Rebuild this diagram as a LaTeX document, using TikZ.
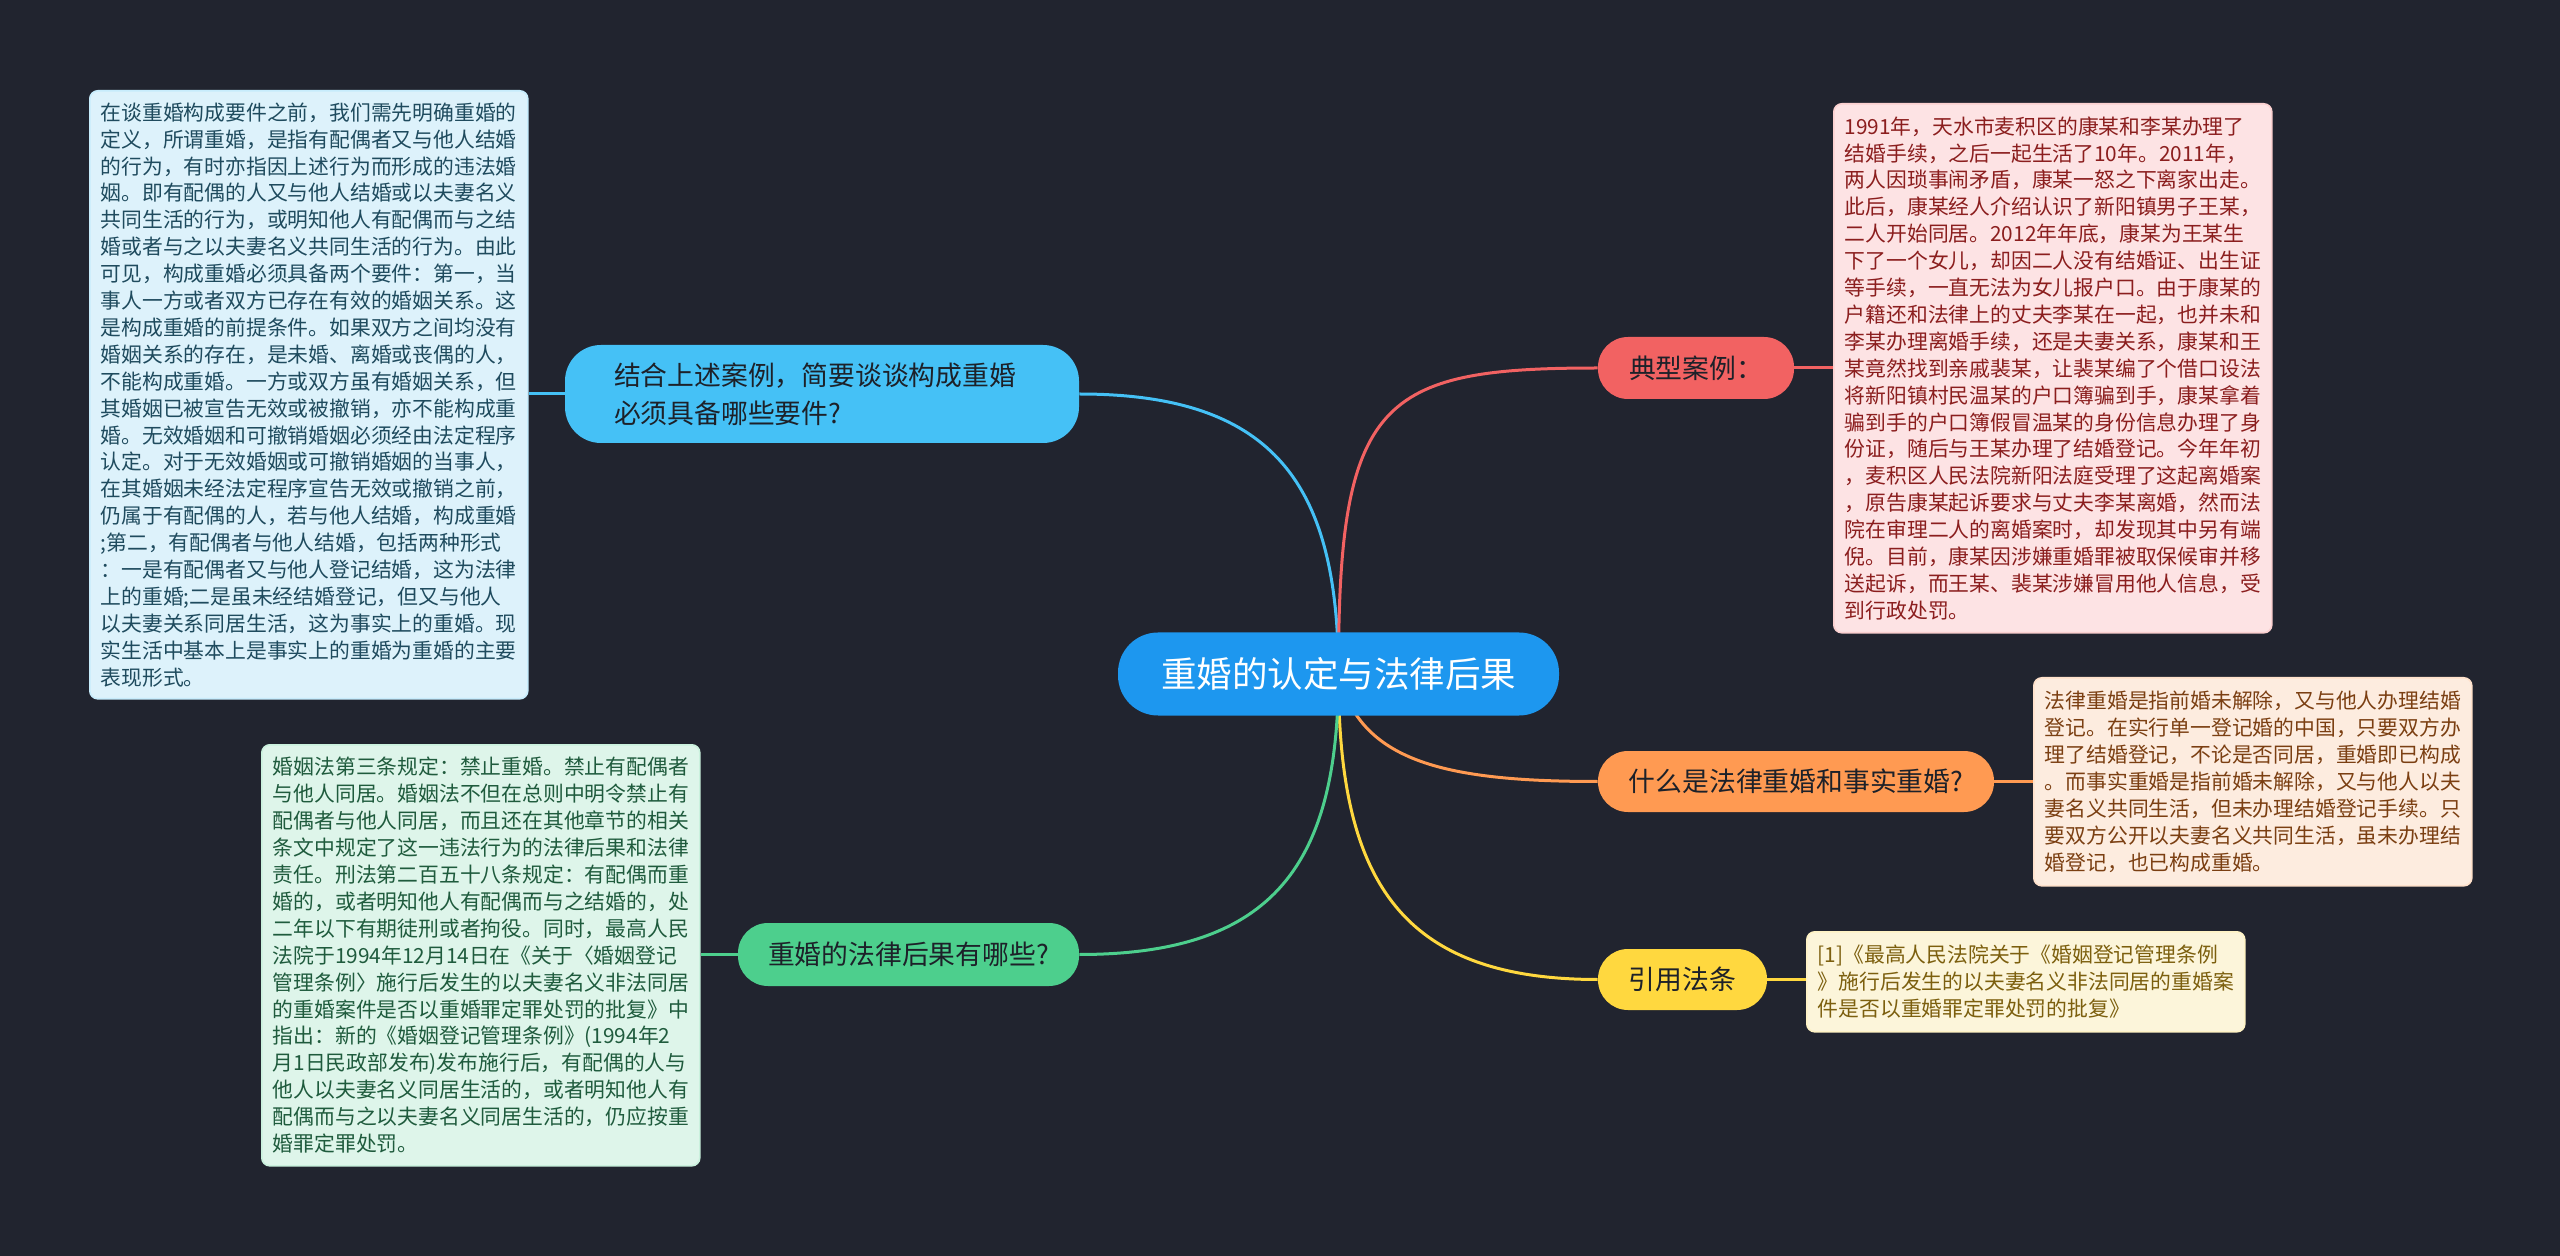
\documentclass[tikz,border=0pt]{standalone}
\usepackage{fontspec}
\newfontfamily\cjk{Noto Sans CJK SC}
\usetikzlibrary{calc}
\definecolor{bgc}{HTML}{21242F}
\definecolor{cMain}{HTML}{1D97EF}
\definecolor{cBlue}{HTML}{45C1F6}
\definecolor{cRed}{HTML}{F26262}
\definecolor{cOrange}{HTML}{FF9A52}
\definecolor{cYellow}{HTML}{FFD83F}
\definecolor{cGreen}{HTML}{4DCF8D}
\definecolor{darktxt}{HTML}{1D2129}
\definecolor{lbFill}{HTML}{DDF2FB}\definecolor{lbText}{HTML}{1F4B5E}
\definecolor{rFill}{HTML}{FDE3E4}\definecolor{rText}{HTML}{8B1E1E}
\definecolor{oFill}{HTML}{FDECDF}\definecolor{oText}{HTML}{7B3F12}
\definecolor{yFill}{HTML}{FCF5DA}\definecolor{yText}{HTML}{7C5F0E}
\definecolor{gFill}{HTML}{DEF5EA}\definecolor{gText}{HTML}{1F5B3D}
\pgfdeclarelayer{back}
\pgfsetlayers{back,main}
\tikzset{
  central/.style={fill=cMain, text=white, rounded corners=20pt, minimum width=220.5pt,
    minimum height=41.5pt, inner sep=0pt, font=\cjk\fontsize{17.75pt}{20pt}\selectfont},
  branch/.style={rounded corners=15pt, inner sep=0pt, text=darktxt,
    font=\cjk\fontsize{13.4pt}{19pt}\selectfont},
  tbox/.style={rounded corners=4pt, inner xsep=5.5pt, inner ysep=0pt, align=left,
    text width=208pt, anchor=north west, line width=0.8pt,
    font=\cjk\fontsize{10.4pt}{13.45pt}\selectfont},
  conn/.style={line width=1.5pt}
}
\begin{document}
\begin{tikzpicture}[x=0.5pt,y=-0.5pt]
\useasboundingbox (0,0) rectangle (2560,1256);
\begin{pgfonlayer}{back}
\fill[bgc] (0,0) rectangle (2560,1256);
\end{pgfonlayer}

% central
\node[central] (c) at (1338.5,674) {重婚的认定与法律后果};

% branches
\node[branch, fill=cBlue, minimum width=257pt, minimum height=49pt, rounded corners=18pt,
  align=left, text width=208pt] (blueN) at (822,394)
  {结合上述案例，简要谈谈构成重婚\\必须具备哪些要件?};
\node[branch, fill=cGreen, minimum width=170.5pt, minimum height=31.5pt] (greenN) at (908.5,954.5) {重婚的法律后果有哪些?};
\node[branch, fill=cRed, minimum width=98pt, minimum height=31pt] (redN) at (1696,368) {典型案例：};
\node[branch, fill=cOrange, minimum width=198pt, minimum height=30.5pt] (orangeN) at (1796,781.5) {什么是法律重婚和事实重婚?};
\node[branch, fill=cYellow, minimum width=84.5pt, minimum height=30.5pt] (yellowN) at (1682.5,979.5) {引用法条};

% text boxes
\node[tbox, fill=lbFill, draw=cBlue!30!white, text=lbText, minimum height=304pt] (leftBox) at (89,90) {%
在谈重婚构成要件之前，我们需先明确重婚的\\
定义，所谓重婚，是指有配偶者又与他人结婚\\
的行为，有时亦指因上述行为而形成的违法婚\\
姻。即有配偶的人又与他人结婚或以夫妻名义\\
共同生活的行为，或明知他人有配偶而与之结\\
婚或者与之以夫妻名义共同生活的行为。由此\\
可见，构成重婚必须具备两个要件：第一，当\\
事人一方或者双方已存在有效的婚姻关系。这\\
是构成重婚的前提条件。如果双方之间均没有\\
婚姻关系的存在，是未婚、离婚或丧偶的人，\\
不能构成重婚。一方或双方虽有婚姻关系，但\\
其婚姻已被宣告无效或被撤销，亦不能构成重\\
婚。无效婚姻和可撤销婚姻必须经由法定程序\\
认定。对于无效婚姻或可撤销婚姻的当事人，\\
在其婚姻未经法定程序宣告无效或撤销之前，\\
仍属于有配偶的人，若与他人结婚，构成重婚\\
;第二，有配偶者与他人结婚，包括两种形式\\
：一是有配偶者又与他人登记结婚，这为法律\\
上的重婚;二是虽未经结婚登记，但又与他人\\
以夫妻关系同居生活，这为事实上的重婚。现\\
实生活中基本上是事实上的重婚为重婚的主要\\
表现形式。};

\node[tbox, fill=rFill, draw=cRed!30!white, text=rText, minimum height=264.5pt] (redBox) at (1833,103) {%
1991年，天水市麦积区的康某和李某办理了\\
结婚手续，之后一起生活了10年。2011年，\\
两人因琐事闹矛盾，康某一怒之下离家出走。\\
此后，康某经人介绍认识了新阳镇男子王某，\\
二人开始同居。2012年年底，康某为王某生\\
下了一个女儿，却因二人没有结婚证、出生证\\
等手续，一直无法为女儿报户口。由于康某的\\
户籍还和法律上的丈夫李某在一起，也并未和\\
李某办理离婚手续，还是夫妻关系，康某和王\\
某竟然找到亲戚裴某，让裴某编了个借口设法\\
将新阳镇村民温某的户口簿骗到手，康某拿着\\
骗到手的户口簿假冒温某的身份信息办理了身\\
份证，随后与王某办理了结婚登记。今年年初\\
，麦积区人民法院新阳法庭受理了这起离婚案\\
，原告康某起诉要求与丈夫李某离婚，然而法\\
院在审理二人的离婚案时，却发现其中另有端\\
倪。目前，康某因涉嫌重婚罪被取保候审并移\\
送起诉，而王某、裴某涉嫌冒用他人信息，受\\
到行政处罚。};

\node[tbox, fill=oFill, draw=cOrange!30!white, text=oText, minimum height=104pt] (orangeBox) at (2033,677) {%
法律重婚是指前婚未解除，又与他人办理结婚\\
登记。在实行单一登记婚的中国，只要双方办\\
理了结婚登记，不论是否同居，重婚即已构成\\
。而事实重婚是指前婚未解除，又与他人以夫\\
妻名义共同生活，但未办理结婚登记手续。只\\
要双方公开以夫妻名义共同生活，虽未办理结\\
婚登记，也已构成重婚。};

\node[tbox, fill=yFill, draw=cYellow!30!white, text=yText, minimum height=50pt] (yellowBox) at (1806,931) {%
[1]《最高人民法院关于《婚姻登记管理条例\\
》施行后发生的以夫妻名义非法同居的重婚案\\
件是否以重婚罪定罪处罚的批复》};

\node[tbox, fill=gFill, draw=cGreen!30!white, text=gText, minimum height=210.5pt] (greenBox) at (261,744) {%
婚姻法第三条规定：禁止重婚。禁止有配偶者\\
与他人同居。婚姻法不但在总则中明令禁止有\\
配偶者与他人同居，而且还在其他章节的相关\\
条文中规定了这一违法行为的法律后果和法律\\
责任。刑法第二百五十八条规定：有配偶而重\\
婚的，或者明知他人有配偶而与之结婚的，处\\
二年以下有期徒刑或者拘役。同时，最高人民\\
法院于1994年12月14日在《关于〈婚姻登记\\
管理条例〉施行后发生的以夫妻名义非法同居\\
的重婚案件是否以重婚罪定罪处罚的批复》中\\
指出：新的《婚姻登记管理条例》(1994年2\\
月1日民政部发布)发布施行后，有配偶的人与\\
他人以夫妻名义同居生活的，或者明知他人有\\
配偶而与之以夫妻名义同居生活的，仍应按重\\
婚罪定罪处罚。};

% connectors
\begin{pgfonlayer}{back}
\draw[conn, cBlue] (c.center) .. controls (1338,486) and (1276,394) .. (blueN.east);
\draw[conn, cRed] (c.center) .. controls (1338,399) and (1380,368) .. (redN.west);
\draw[conn, cOrange] (c.center) .. controls (1360,760) and (1440,781.5) .. (orangeN.west);
\draw[conn, cYellow] (c.center) .. controls (1338,880) and (1400,979.5) .. (yellowN.west);
\draw[conn, cGreen] (c.center) .. controls (1338,862) and (1276,954.5) .. (greenN.east);
\draw[conn, cBlue] (blueN.west) -- (blueN.west -| leftBox.east);
\draw[conn, cGreen] (greenN.west) -- (greenN.west -| greenBox.east);
\draw[conn, cRed] (redN.east) -- (redN.east -| redBox.west);
\draw[conn, cOrange] (orangeN.east) -- (orangeN.east -| orangeBox.west);
\draw[conn, cYellow] (yellowN.east) -- (yellowN.east -| yellowBox.west);
\end{pgfonlayer}
\end{tikzpicture}
\end{document}
